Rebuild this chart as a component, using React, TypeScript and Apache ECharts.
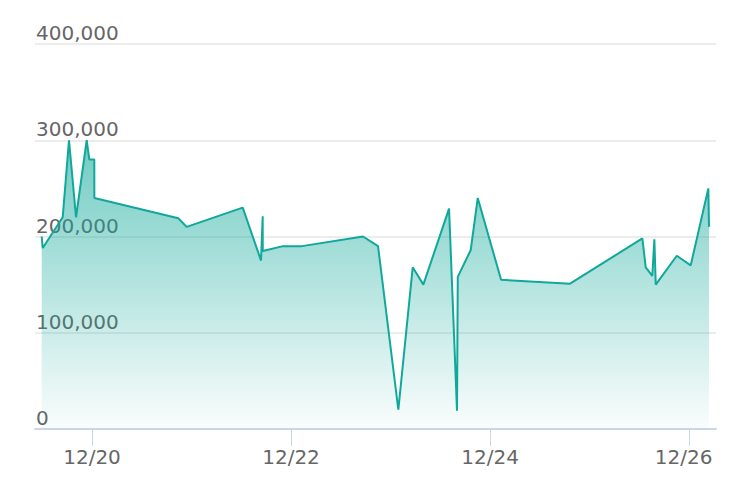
import React, { useEffect, useRef } from "react";
import * as echarts from "echarts";

const times: string[] = [
  "2023-12-19 11:52", "2023-12-19 12:07", "2023-12-19 16:56", "2023-12-19 18:27",
  "2023-12-19 20:09", "2023-12-19 22:43", "2023-12-19 23:21", "2023-12-20 00:33",
  "2023-12-20 00:34", "2023-12-20 20:49", "2023-12-20 22:50", "2023-12-21 12:21",
  "2023-12-21 16:46", "2023-12-21 17:10", "2023-12-21 17:11", "2023-12-21 22:04",
  "2023-12-22 02:39", "2023-12-22 17:22", "2023-12-22 20:59", "2023-12-23 01:53",
  "2023-12-23 05:21", "2023-12-23 07:55", "2023-12-23 14:07", "2023-12-23 16:02",
  "2023-12-23 16:13", "2023-12-23 19:21", "2023-12-23 21:02", "2023-12-24 02:40",
  "2023-12-24 19:18", "2023-12-25 12:44", "2023-12-25 13:33", "2023-12-25 15:08",
  "2023-12-25 15:38", "2023-12-25 15:58", "2023-12-25 21:03", "2023-12-26 00:24",
  "2023-12-26 04:39", "2023-12-26 04:49",
];
const values: number[] = [
  200000, 188000, 220000, 300000,
  220000, 300000, 280000, 280000,
  240000, 219000, 210000, 230000,
  175000, 221000, 185000, 190000,
  190000, 200000, 190000, 20000,
  168000, 150000, 229000, 19000,
  158000, 186000, 240000, 155000,
  151000, 198000, 168000, 159000,
  197000, 150000, 180000, 170000,
  250000, 210000,
];
const xTickLabels: string[] = ["2023-12-20", "2023-12-22", "2023-12-24", "2023-12-26"];
const xMin = "2023-12-19 10:15";
const xMax = "2023-12-26 06:30";
const yMax = 400000;
const yInterval = 100000;

function parse(s: string): number {
  const [d, t] = s.split(" ");
  const [y, m, day] = d.split("-").map(Number);
  const [hh, mm] = (t || "00:00").split(":").map(Number);
  return new Date(y, m - 1, day, hh, mm).getTime();
}

export default function App() {
  const ref = useRef<HTMLDivElement>(null);
  useEffect(() => {
    if (!ref.current) return;
    const chart = echarts.init(ref.current, undefined, { renderer: "svg" });
    const tickVals = xTickLabels.map(parse);
    const lastTick = tickVals[tickVals.length - 1];
    const font = "DejaVu Sans";
    chart.setOption({
      animation: false,
      grid: { left: 27, right: 16, top: 36, bottom: 53, containLabel: false },
      xAxis: {
        type: "value",
        min: parse(xMin),
        max: parse(xMax),
        axisLine: { show: true, lineStyle: { color: "#ccd6eb", width: 2 } },
        axisTick: { show: true, length: 17, customValues: tickVals, lineStyle: { color: "#ccd6eb", width: 1 } },
        axisLabel: {
          customValues: tickVals,
          color: "#666",
          fontSize: 20,
          fontFamily: font,
          margin: 18,
          formatter: (v: number) => {
            const d = new Date(v);
            const s = `${d.getMonth() + 1}/${d.getDate()}`;
            return v === lastTick ? `{r|${s}}` : s;
          },
          rich: {
            r: { color: "#666", fontSize: 20, fontFamily: font, padding: [0, 11, 0, 0] },
          },
        },
        splitLine: { show: false },
      },
      yAxis: {
        type: "value",
        min: 0,
        max: yMax,
        interval: yInterval,
        axisLine: { show: false },
        axisTick: { show: false },
        splitLine: { show: true, lineStyle: { color: "#e6e6e6", width: 1.5 } },
        axisLabel: {
          inside: true,
          margin: 1,
          color: "#666",
          fontSize: 20,
          fontFamily: font,
          verticalAlign: "bottom",
          lineHeight: 22,
          formatter: (v: number) => v.toLocaleString("en-US"),
        },
      },
      series: [
        {
          type: "line",
          data: times.map((t, i) => [parse(t), values[i]]),
          showSymbol: false,
          symbol: "none",
          lineStyle: { color: "#10a89a", width: 2 },
          areaStyle: {
            color: new echarts.graphic.LinearGradient(0, 0, 0, 1, [
              { offset: 0, color: "rgba(16,168,154,0.85)" },
              { offset: 1, color: "rgba(16,168,154,0.03)" },
            ]),
          },
        },
      ],
    });
    return () => chart.dispose();
  }, []);
  return <div ref={ref} style={{ width: 724, height: 474 }} />;
}
